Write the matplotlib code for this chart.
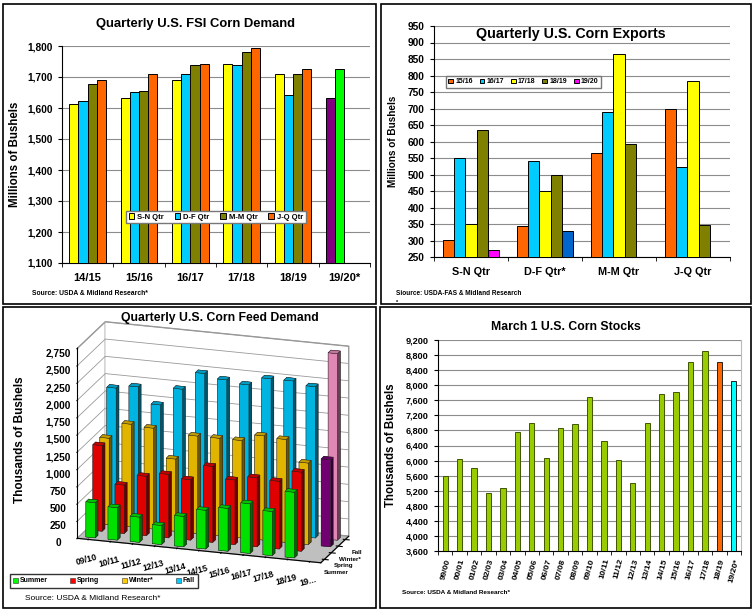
import numpy as np
import matplotlib
matplotlib.use('Agg')
import matplotlib.pyplot as plt
from matplotlib.patches import Rectangle, Patch
from matplotlib.ticker import FuncFormatter, MultipleLocator

plt.rcParams['font.family'] = ['Liberation Sans', 'DejaVu Sans']
plt.rcParams['font.weight'] = 'bold'
plt.rcParams['axes.labelweight'] = 'bold'

# FSI corn demand (top left)
fsi_years = ['14/15', '15/16', '16/17', '17/18', '18/19', '19/20*']
fsi_quarters = ['S-N Qtr', 'D-F Qtr', 'M-M Qtr', 'J-Q Qtr']
fsi_sn = [1614, 1632, 1689, 1743, 1711, 1633]
fsi_df = [1622, 1653, 1711, 1740, 1642, 1725]
fsi_mm = [1676, 1656, 1740, 1782, 1711, np.nan]
fsi_jq = [1690, 1711, 1743, 1795, 1727, np.nan]

# corn exports (top right)
exp_quarters = ['S-N Qtr', 'D-F Qtr*', 'M-M Qtr', 'J-Q Qtr']
exp_years = ['15/16', '16/17', '17/18', '18/19', '19/20']
exp_1516 = [303, 343, 565, 698]
exp_1617 = [550, 540, 690, 523]
exp_1718 = [350, 449, 865, 783]
exp_1819 = [635, 500, 592, 346]
exp_1920 = [272, 328, np.nan, np.nan]

# feed demand (bottom left, 3d)
feed_years = ['09/10', '10/11', '11/12', '12/13', '13/14', '14/15', '15/16',
              '16/17', '17/18', '18/19', '19...']
feed_seasons = ['Summer', 'Spring', 'Winter*', 'Fall']
feed_summer = [510, 470, 365, 275, 440, 560, 620, 720, 640, 950, np.nan]
feed_spring = [1240, 700, 860, 920, 875, 1100, 935, 1000, 980, 1145, np.nan]
feed_winter = [1250, 1485, 1460, 1045, 1410, 1410, 1410, 1510, 1490, 1180, 1260]
feed_fall = [1880, 1930, 1700, 1960, 2220, 2160, 2120, 2240, 2240, 2190, 2700]

# March 1 stocks (bottom right)
stock_years = ['99/00', '00/01', '01/02', '02/03', '03/04', '04/05', '05/06',
               '06/07', '07/08', '08/09', '09/10', '10/11', '11/12', '12/13',
               '13/14', '14/15', '15/16', '16/17', '17/18', '18/19', '19/20*']
stocks = [5600, 6040, 5800, 5140, 5270, 6750, 6990, 6060, 6860, 6960, 7680,
          6520, 6010, 5400, 7010, 7760, 7820, 8620, 8900, 8620, 8120]

W, H = 756, 612
fig = plt.figure(figsize=(W / 100, H / 100), dpi=100)
fig.patch.set_facecolor('white')


def fx(x):
    return x / W


def fy(y):
    return 1 - y / H


def box(x0, y0, x1, y1):
    fig.add_artist(Rectangle((fx(x0), fy(y1)), fx(x1 - x0), (y1 - y0) / H,
                             transform=fig.transFigure, fill=False,
                             edgecolor='black', linewidth=1.2))


def axpos(x0, y0, x1, y1):
    return [fx(x0), fy(y1), fx(x1 - x0), (y1 - y0) / H]


comma = FuncFormatter(lambda v, p: f'{v:,.0f}')
grid_col = '#8c8c8c'

box(3, 4, 376, 304)
box(381, 4, 751, 304)
box(3, 307, 376, 608)
box(380, 307, 751, 608)

# ---------------- top left ----------------
ax1 = fig.add_axes(axpos(62, 46, 370, 263))
q_colors = ['#FFFF00', '#00CCFF', '#808000', '#FF6600']
last_colors = ['#800080', '#00FF00']
x = np.arange(len(fsi_years))
w = 0.18
for k, vals in enumerate([fsi_sn, fsi_df, fsi_mm, fsi_jq]):
    cols = [q_colors[k]] * (len(fsi_years) - 1)
    cols.append(last_colors[k] if k < 2 else q_colors[k])
    bars = ax1.bar(x + (k - 1.5) * w, vals, w, color=cols, edgecolor='black',
                   linewidth=0.7, zorder=3)
    bars[0].set_label(fsi_quarters[k])
ax1.set_xlim(-0.5, 5.5)
ax1.set_ylim(1100, 1800)
ax1.yaxis.set_major_locator(MultipleLocator(100))
ax1.yaxis.set_major_formatter(comma)
ax1.set_xticks(x)
ax1.set_xticklabels(fsi_years, fontsize=8)
ax1.set_xticks(np.arange(-0.5, 6, 1), minor=True)
ax1.tick_params(axis='x', which='major', length=0, pad=7)
ax1.tick_params(axis='x', which='minor', length=3, direction='out')
ax1.tick_params(axis='y', labelsize=7.3, length=3)
ax1.grid(axis='y', color=grid_col, linewidth=0.8, zorder=0)
for s in ['top', 'right']:
    ax1.spines[s].set_visible(False)
ax1.set_ylabel('Millions of Bushels', fontsize=8.3)
ax1.yaxis.set_label_coords((21 - 62) / 308, 0.5)
ax1.legend(loc='center', bbox_to_anchor=(0.5, 0.212), ncol=4, fontsize=5.5,
           handlelength=0.7, handleheight=0.7, handletextpad=0.4,
           columnspacing=1.4, fancybox=False, edgecolor='#777777',
           borderpad=0.35, framealpha=1)
fig.text(fx(196), fy(24), 'Quarterly U.S. FSI Corn Demand', ha='center',
         va='center', fontsize=9.4)
fig.text(fx(32), fy(293), 'Source: USDA & Midland Research*', fontsize=4.9,
         va='center')

# ---------------- top right ----------------
ax2 = fig.add_axes(axpos(434, 26, 730, 257))
y_colors = ['#FF6600', '#00CCFF', '#FFFF00', '#808000', '#FF00FF']
x = np.arange(len(exp_quarters))
w = 0.153
for k, vals in enumerate([exp_1516, exp_1617, exp_1718, exp_1819, exp_1920]):
    cols = [y_colors[k]] * len(exp_quarters)
    if k == 4:
        cols[1] = '#0066CC'
    bars = ax2.bar(x + (k - 2) * w, vals, w, color=cols, edgecolor='black',
                   linewidth=0.7, zorder=3)
    bars[0].set_label(exp_years[k])
ax2.set_xlim(-0.5, 3.5)
ax2.set_ylim(250, 950)
ax2.yaxis.set_major_locator(MultipleLocator(50))
ax2.set_xticks(x)
ax2.set_xticklabels(exp_quarters, fontsize=7.8)
ax2.set_xticks(np.arange(-0.5, 4, 1), minor=True)
ax2.tick_params(axis='x', which='major', length=0, pad=7)
ax2.tick_params(axis='x', which='minor', length=3, direction='out')
ax2.tick_params(axis='y', labelsize=7.3, length=3)
ax2.grid(axis='y', color=grid_col, linewidth=0.8, zorder=0)
for s in ['top', 'right']:
    ax2.spines[s].set_visible(False)
ax2.set_ylabel('Millions of Bushels', fontsize=7.2)
ax2.yaxis.set_label_coords((398 - 434) / 296, 0.5)
ax2.legend(loc='center', bbox_to_anchor=(0.302, 0.758), ncol=5, fontsize=5,
           handlelength=0.7, handleheight=0.7, handletextpad=0.3,
           columnspacing=1.0, fancybox=False, edgecolor='#777777',
           borderpad=0.35, framealpha=1)
ax2.text(0.463, 0.965, 'Quarterly U.S. Corn Exports', transform=ax2.transAxes,
         ha='center', va='center', fontsize=10.3, zorder=5)
fig.text(fx(396), fy(293), 'Siource: USDA-FAS & Midland Research', fontsize=4.7,
         va='center')
fig.text(fx(396), fy(302), '*', fontsize=4, va='center')

# ---------------- bottom left (3d) ----------------
ax3 = fig.add_axes([0.027, 0.0514, 0.5, 0.44], projection='3d')
ax3.set_proj_type('ortho')
ax3.view_init(elev=18, azim=-72)
s_colors = ['#00FF00', '#FF0000', '#FFCC00', '#00CCFF']
xs, ys, hs, cs = [], [], [], []
for r, vals in enumerate([feed_summer, feed_spring, feed_winter, feed_fall]):
    for i, v in enumerate(vals):
        if np.isnan(v):
            continue
        c = s_colors[r]
        if i == len(vals) - 1:
            c = '#800080' if r == 2 else '#FF99CC'
        xs.append(i)
        ys.append(r)
        hs.append(v)
        cs.append(c)
ax3.bar3d(np.array(xs) - 0.21, np.array(ys) - 0.2, 0, 0.42, 0.4, hs,
          color=cs, edgecolor='#222222', linewidth=0.3, shade=True)
ax3.set_xlim(-0.5, 10.5)
ax3.set_ylim(-0.5, 3.5)
ax3.set_zlim(0, 2750)
ax3.set_box_aspect((255, 90, 199), zoom=1.215)
ax3.xaxis.set_pane_color((1, 1, 1, 1))
ax3.yaxis.set_pane_color((1, 1, 1, 1))
ax3.zaxis.set_pane_color((0.75, 0.75, 0.75, 1))
for a in [ax3.xaxis, ax3.yaxis, ax3.zaxis]:
    a.pane.set_edgecolor('#999999')
ax3.xaxis._axinfo['grid']['linewidth'] = 0
ax3.yaxis._axinfo['grid']['linewidth'] = 0
ax3.zaxis._axinfo['grid']['color'] = '#999999'
ax3.zaxis._axinfo['grid']['linewidth'] = 0.6
ax3.set_xticks(range(len(feed_years)))
ax3.set_xticklabels(feed_years, fontsize=6.3, rotation=15)
ax3.set_yticks(range(4))
ax3.set_yticklabels(feed_seasons, fontsize=4.5)
ax3.set_zticks(range(0, 2751, 250))
ax3.zaxis.set_major_formatter(comma)
ax3.zaxis.set_ticks_position('lower')
ax3.tick_params(axis='z', labelsize=7.3, pad=-1)
ax3.tick_params(axis='x', pad=-2)
ax3.tick_params(axis='y', pad=-3)
ax3.patch.set_alpha(0)
fig.text(fx(220), fy(318), 'Quarterly U.S. Corn Feed Demand', ha='center',
         va='center', fontsize=8.8)
fig.text(fx(20), fy(440), 'Thousands of Bushels', rotation=90, ha='center',
         va='center', fontsize=8.5)
handles = [Patch(facecolor=c, edgecolor='#333333', linewidth=0.4) for c in s_colors]
fig.legend(handles, feed_seasons, loc='center', bbox_to_anchor=(fx(104), fy(581)),
           ncol=4, fontsize=5, handlelength=0.7, handleheight=0.7,
           handletextpad=0.3, columnspacing=3.2, fancybox=False,
           edgecolor='#333333', borderpad=0.5, framealpha=1)
fig.text(fx(25), fy(598), 'Source: USDA & Midland Research*', fontsize=6,
         fontweight='normal', va='center')

# ---------------- bottom right ----------------
ax4 = fig.add_axes(axpos(438, 340, 741, 551))
st_colors = ['#99CC00'] * (len(stocks) - 2) + ['#FF6600', '#00FFFF']
st_edges = ['#3F5500'] * (len(stocks) - 2) + ['#222222', '#222222']
x = np.arange(len(stocks))
ax4.bar(x, stocks, 0.37, color=st_colors, edgecolor=st_edges, linewidth=0.7,
        zorder=3)
ax4.set_xlim(-0.5, len(stocks) - 0.5)
ax4.set_ylim(3600, 9200)
ax4.yaxis.set_major_locator(MultipleLocator(400))
ax4.yaxis.set_major_formatter(comma)
ax4.set_xticks(x)
ax4.set_xticklabels(stock_years, fontsize=6, rotation=75, ha='right',
                    va='top', rotation_mode='anchor')
ax4.set_xticks(np.arange(-0.5, len(stocks), 1), minor=True)
ax4.tick_params(axis='x', which='major', length=0, pad=5)
ax4.tick_params(axis='x', which='minor', length=3, direction='out')
ax4.tick_params(axis='y', labelsize=6.6, length=3)
ax4.grid(axis='y', color=grid_col, linewidth=0.8, zorder=0)
ax4.spines['top'].set_visible(False)
ax4.spines['right'].set_color('#BBBBBB')
ax4.set_ylabel('Thousands of Bushels', fontsize=8.3)
ax4.yaxis.set_label_coords((397 - 438) / 303, 0.5)
fig.text(fx(566), fy(327), 'March 1 U.S. Corn Stocks', ha='center',
         va='center', fontsize=8.8)
fig.text(fx(402), fy(592), 'Source: USDA & Midland Research*', fontsize=4.6,
         va='center')

fig.savefig('out.png', dpi=100)
